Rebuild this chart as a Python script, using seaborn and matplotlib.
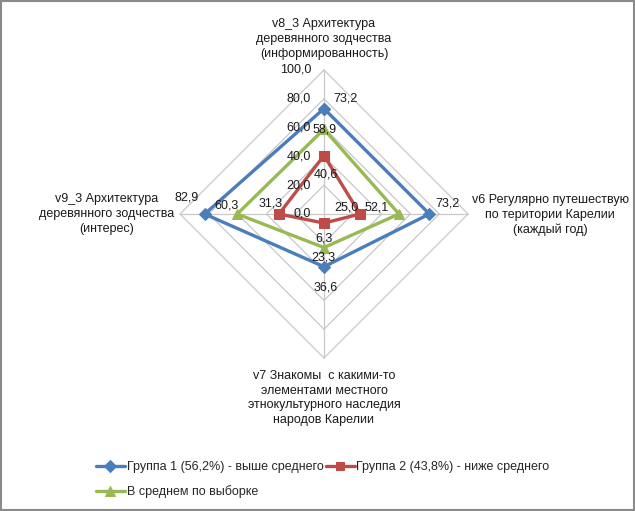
import numpy as np
import pandas as pd
import seaborn as sns
import matplotlib.pyplot as plt
from matplotlib.patches import Rectangle

# данные диаграммы
categories = [
    "v8_3 Архитектура\nдеревянного зодчества\n(информированность)",
    "v6 Регулярно путешествую\nпо територии Карелии\n(каждый год)",
    "v7 Знакомы  с какими-то\nэлементами местного\nэтнокультурного наследия\nнародов Карелии",
    "v9_3 Архитектура\nдеревянного зодчества\n(интерес)",
]
group1 = [73.2, 73.2, 36.6, 82.9]
group2 = [40.6, 25.0, 6.3, 31.3]
average = [58.9, 52.1, 23.3, 60.3]
series_names = [
    "Группа 1 (56,2%) - выше среднего",
    "Группа 2 (43,8%) - ниже среднего",
    "В среднем по выборке",
]
ticks = [0, 20, 40, 60, 80, 100]

sns.set_theme(style="white")
plt.rcParams['font.family'] = ['Liberation Sans', 'DejaVu Sans']
FS = 9

W, H = 635, 511
fig = plt.figure(figsize=(W / 100, H / 100), dpi=100)
ax = fig.add_axes([0, 0, 1, 1])
ax.set_axis_off()

# масштаб: 1 единица = 1.44 px, центр в (324, 214) от верхнего края
k = 1.44
cx, cy = 324, 214
ax.set_xlim(-cx / k, (W - cx) / k)
ax.set_ylim(-(H - cy) / k, cy / k)

n = len(categories)
theta = np.arange(n) * 2 * np.pi / n  # по часовой стрелке от верха


def to_xy(vals):
    vals = np.asarray(vals, dtype=float)
    return vals * np.sin(theta), vals * np.cos(theta)


def fmt(v):
    return f"{v:.1f}".replace(".", ",")


grid_color = "#c8c8c8"
# кольца сетки
for t in ticks[1:]:
    x, y = to_xy([t] * n)
    ax.plot(np.append(x, x[0]), np.append(y, y[0]), color=grid_color, lw=0.9, zorder=1)
# лучи
for th in theta:
    ax.plot([0, 100 * np.sin(th)], [0, 100 * np.cos(th)], color=grid_color, lw=0.9, zorder=1)

# подписи шкалы
for t in ticks:
    ax.annotate(fmt(t), (0, t), xytext=(-13, 0), textcoords="offset pixels",
                ha="right", va="center", fontsize=FS, color="#1a1a1a", zorder=5)

# подписи осей
cat_offsets = [(0, 31), (82, -1), (0, -40), (-73, 0)]
for i, lab in enumerate(categories):
    ex, ey = 100 * np.sin(theta[i]), 100 * np.cos(theta[i])
    ax.annotate(lab, (ex, ey), xytext=cat_offsets[i], textcoords="offset pixels",
                ha="center", va="center", fontsize=FS, color="#1a1a1a",
                linespacing=1.3)

colors = ["#4a7ebb", "#be4b48", "#98b954"]
markers = ["D", "s", "^"]
msizes = [6.5, 6.5, 7.5]
all_series = [group1, group2, average]
label_offsets = [
    [(21, 10), (18, 10), (2, -21), (-18, 16)],
    [(2, -19), (-14, 7), (0, -15), (-8, 10)],
    [(1, 0), (-22, 6), (-1, -10), (-11, 8)],
]

for vals, name, col, mk, ms, offs in zip(all_series, series_names, colors,
                                         markers, msizes, label_offsets):
    x, y = to_xy(vals)
    df = pd.DataFrame({"x": np.append(x, x[0]), "y": np.append(y, y[0])})
    sns.lineplot(data=df, x="x", y="y", sort=False, estimator=None, ax=ax,
                 color=col, lw=2.4, marker=mk, markersize=ms,
                 markeredgecolor=col, label=name, zorder=3)
    for xi, yi, v, off in zip(x, y, vals, offs):
        ax.annotate(fmt(v), (xi, yi), xytext=off, textcoords="offset pixels",
                    ha="center", va="center", fontsize=FS, color="#1a1a1a", zorder=6)

ax.set_xlim(-cx / k, (W - cx) / k)
ax.set_ylim(-(H - cy) / k, cy / k)

handles, labels = ax.get_legend_handles_labels()
ax.get_legend().remove()
# порядок по строкам: первая строка — группы 1 и 2, вторая — среднее
order = [0, 2, 1]
fig.legend([handles[i] for i in order], [labels[i] for i in order],
           loc="upper left", bbox_to_anchor=(96 / W, 1 - 461 / H),
           ncol=2, frameon=False, fontsize=FS, handlelength=2.3, handletextpad=0.15,
           columnspacing=0.2, labelspacing=1.0, borderaxespad=0, borderpad=0,
           markerscale=0.9)

fig.patches.append(Rectangle((0.001, 0.002), 0.997, 0.996, transform=fig.transFigure,
                             fill=False, edgecolor="#8a8a8a", lw=1.5))

fig.savefig("out.png", dpi=100)
